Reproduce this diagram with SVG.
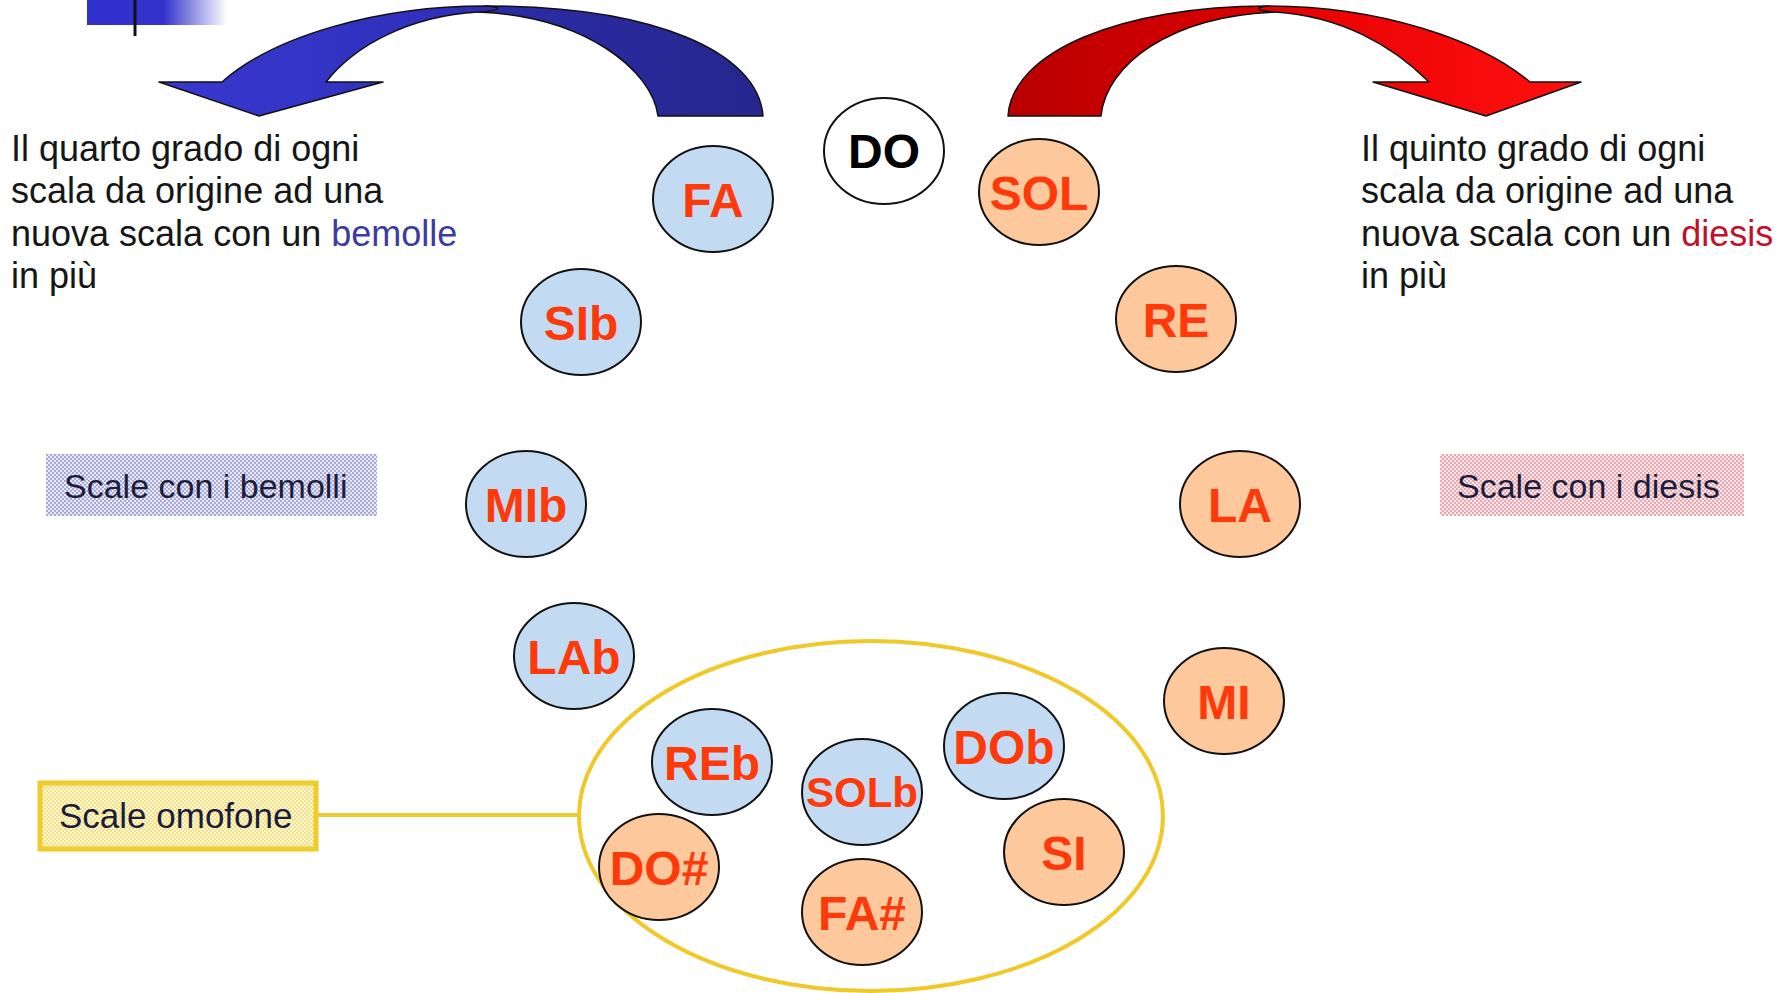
<svg xmlns="http://www.w3.org/2000/svg" width="1785" height="993" viewBox="0 0 1785 993">
<style>
.txt{font-family:"Liberation Sans",Arial,sans-serif;font-size:36px;fill:#161616}
.lbl{font-family:"Liberation Sans",Arial,sans-serif;font-size:34px;fill:#1c1c3c}
.flat{fill:#c3daf3;stroke:#111;stroke-width:2}
.sharp{fill:#fcc89c;stroke:#111;stroke-width:2}
.do{fill:#fff;stroke:#111;stroke-width:2}
.nt{font-family:"Liberation Sans",Arial,sans-serif;font-weight:bold;font-size:48px;fill:#ff3a0a;text-anchor:middle}
.nts{font-size:42px}
.blk{fill:#000}
.arr{stroke:#111;stroke-width:1.5;stroke-linejoin:round}
</style>
<defs>
<linearGradient id="fade" x1="0" x2="1" y1="0" y2="0">
<stop offset="0" stop-color="#3030d0"/><stop offset="0.55" stop-color="#3333cc"/><stop offset="1" stop-color="#3333cc" stop-opacity="0"/>
</linearGradient>
<linearGradient id="gblue" x1="0" x2="1" y1="0" y2="0">
<stop offset="0" stop-color="#3838d0"/><stop offset="1" stop-color="#2e2eb8"/>
</linearGradient>
<linearGradient id="gblue2" x1="0" x2="1" y1="0" y2="0">
<stop offset="0" stop-color="#2c2ca8"/><stop offset="1" stop-color="#26268e"/>
</linearGradient>
<linearGradient id="gred" x1="0" x2="1" y1="0" y2="0">
<stop offset="0" stop-color="#b80000"/><stop offset="1" stop-color="#dd0000"/>
</linearGradient>
<linearGradient id="gred2" x1="0" x2="1" y1="0" y2="0">
<stop offset="0" stop-color="#e60000"/><stop offset="1" stop-color="#ff1010"/>
</linearGradient>
<pattern id="pb" width="4" height="4" patternUnits="userSpaceOnUse"><rect width="4" height="4" fill="#e6e8f6"/><circle cx="1" cy="1" r="0.9" fill="#8c8cc8"/><circle cx="3" cy="3" r="0.9" fill="#8c8cc8"/></pattern>
<pattern id="pr" width="4" height="4" patternUnits="userSpaceOnUse"><rect width="4" height="4" fill="#fae6ea"/><circle cx="1" cy="1" r="0.9" fill="#e08c94"/><circle cx="3" cy="3" r="0.9" fill="#e08c94"/></pattern>
<pattern id="py" width="4" height="4" patternUnits="userSpaceOnUse"><rect width="4" height="4" fill="#fff8d0"/><circle cx="1" cy="1" r="1" fill="#f0d870"/><circle cx="3" cy="3" r="1" fill="#f0d870"/></pattern>
</defs>
<rect width="1785" height="993" fill="#fff"/>

<g id="decor">
<rect x="87" y="0" width="140" height="25" fill="url(#fade)"/>
<line x1="135" y1="0" x2="135" y2="36" stroke="#111" stroke-width="3"/>
</g>

<g id="connectors">
<g id="arrow-flat">
<path class="arr" fill="url(#gblue2)" d="M 485,6 C 655,6 758,52 763,116 L 658,116 C 652,70 585,16 478,12 Z"/>
<path class="arr" fill="url(#gblue)" d="M 159,82 L 222,82 C 275,35 380,6 485,6 C 505,7 500,11 478,12 C 410,16 355,45 326,82 L 383,82 L 259,116 Z"/>
</g>
<g id="arrow-sharp">
<path class="arr" fill="url(#gred)" d="M 1268,6 C 1120,6 1012,52 1008,116 L 1101,116 C 1106,65 1170,16 1275,12 Z"/>
<path class="arr" fill="url(#gred2)" d="M 1268,6 C 1380,6 1480,40 1530,82 L 1581,82 L 1486,116 L 1373,82 L 1429,82 C 1392,45 1340,16 1275,12 C 1255,11 1255,7 1268,6 Z"/>
</g>
<line id="omofone-link" x1="316" y1="815" x2="579" y2="815" stroke="#f0c830" stroke-width="4"/>
<ellipse id="omofone-group" cx="871" cy="816" rx="292" ry="175" fill="none" stroke="#f0c828" stroke-width="4"/>
</g>

<g id="text-left">
<text class="txt" x="11" y="161">Il quarto grado di ogni</text>
<text class="txt" x="11" y="203">scala da origine ad una</text>
<text class="txt" x="11" y="246">nuova scala con un <tspan fill="#3b3ba0">bemolle</tspan></text>
<text class="txt" x="11" y="288">in più</text>
</g>
<g id="text-right">
<text class="txt" x="1361" y="161">Il quinto grado di ogni</text>
<text class="txt" x="1361" y="203">scala da origine ad una</text>
<text class="txt" x="1361" y="246">nuova scala con un <tspan fill="#c0102a">diesis</tspan></text>
<text class="txt" x="1361" y="288">in più</text>
</g>

<g id="label-bemolli">
<rect x="46" y="454" width="331" height="62" fill="url(#pb)"/>
<text class="lbl" x="64" y="498">Scale con i bemolli</text>
</g>
<g id="label-diesis">
<rect x="1440" y="454" width="304" height="62" fill="url(#pr)"/>
<text class="lbl" x="1457" y="498">Scale con i diesis</text>
</g>
<g id="label-omofone">
<rect x="40" y="783" width="276" height="66" fill="url(#py)" stroke="#f0cc2a" stroke-width="5"/>
<text class="lbl" x="59" y="828" style="font-size:35px">Scale omofone</text>
</g>

<g id="n-DO"><ellipse class="do" cx="884" cy="151" rx="60" ry="53"/><text class="nt blk" x="884" y="168">DO</text></g>
<g id="n-FA"><ellipse class="flat" cx="713" cy="199" rx="60" ry="53"/><text class="nt" x="713" y="217">FA</text></g>
<g id="n-SOL"><ellipse class="sharp" cx="1039" cy="192" rx="60" ry="53"/><text class="nt" x="1039" y="210">SOL</text></g>
<g id="n-SIb"><ellipse class="flat" cx="581" cy="322" rx="60" ry="53"/><text class="nt" x="581" y="340">SIb</text></g>
<g id="n-RE"><ellipse class="sharp" cx="1176" cy="319" rx="60" ry="53"/><text class="nt" x="1176" y="337">RE</text></g>
<g id="n-MIb"><ellipse class="flat" cx="526" cy="504" rx="60" ry="53"/><text class="nt" x="526" y="522">MIb</text></g>
<g id="n-LA"><ellipse class="sharp" cx="1240" cy="504" rx="60" ry="53"/><text class="nt" x="1240" y="522">LA</text></g>
<g id="n-LAb"><ellipse class="flat" cx="574" cy="656" rx="60" ry="53"/><text class="nt" x="574" y="674">LAb</text></g>
<g id="n-MI"><ellipse class="sharp" cx="1224" cy="701" rx="60" ry="53"/><text class="nt" x="1224" y="719">MI</text></g>
<g id="n-REb"><ellipse class="flat" cx="712" cy="762" rx="60" ry="53"/><text class="nt" x="712" y="780">REb</text></g>
<g id="n-SOLb"><ellipse class="flat" cx="862" cy="792" rx="60" ry="53"/><text class="nt nts" x="862" y="807">SOLb</text></g>
<g id="n-DOb"><ellipse class="flat" cx="1004" cy="746" rx="60" ry="53"/><text class="nt" x="1004" y="764">DOb</text></g>
<g id="n-DOsharp"><ellipse class="sharp" cx="659" cy="867" rx="60" ry="53"/><text class="nt" x="659" y="885">DO#</text></g>
<g id="n-SI"><ellipse class="sharp" cx="1064" cy="852" rx="60" ry="53"/><text class="nt" x="1064" y="870">SI</text></g>
<g id="n-FAsharp"><ellipse class="sharp" cx="862" cy="912" rx="60" ry="53"/><text class="nt" x="862" y="930">FA#</text></g>
</svg>
